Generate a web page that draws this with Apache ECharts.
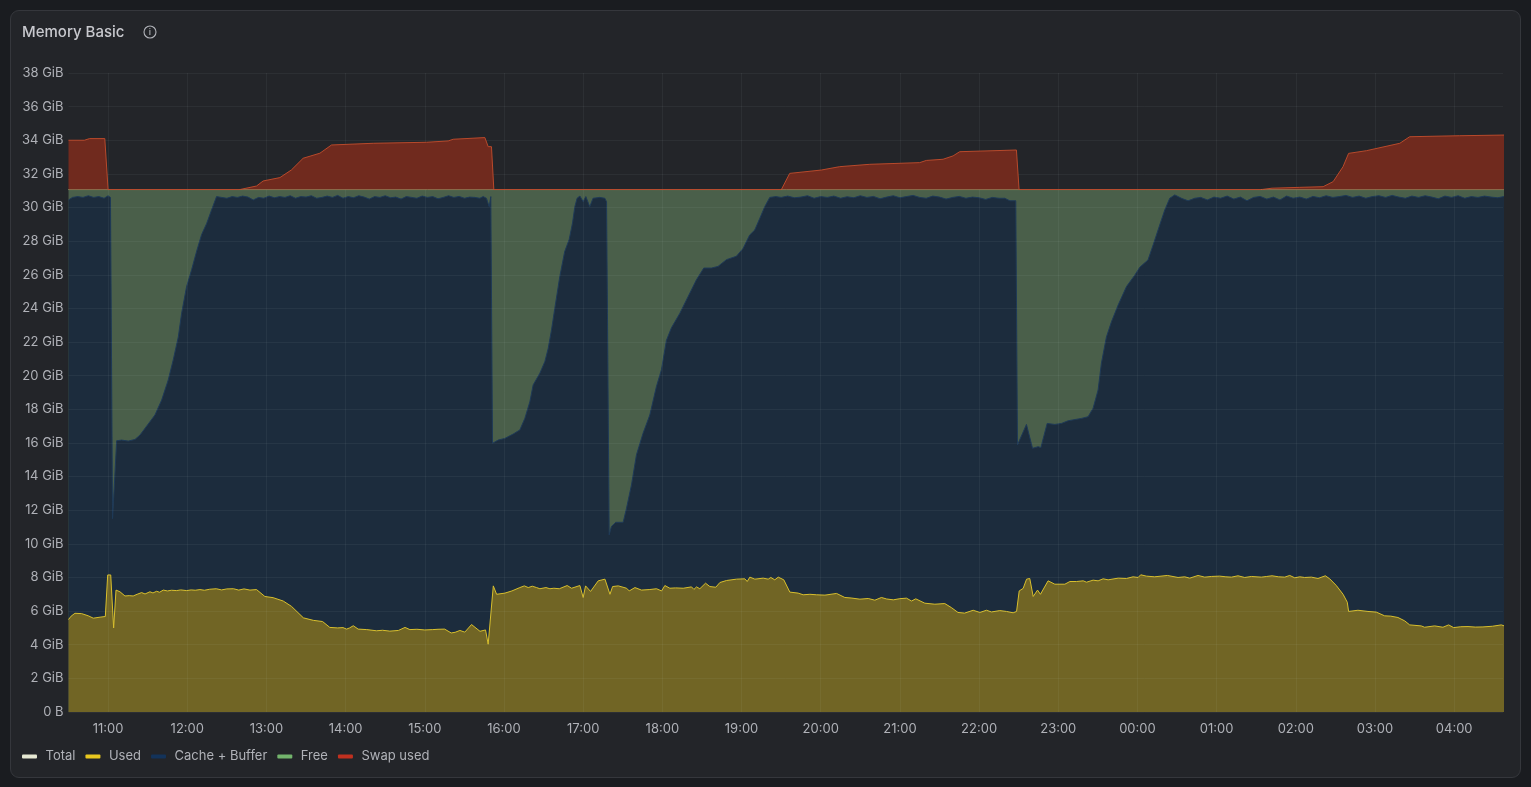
<!DOCTYPE html>
<html><head><meta charset="utf-8">
<style>
html,body{margin:0;padding:0;width:1531px;height:787px;background:#1a1c20;overflow:hidden}
#panel{position:absolute;left:10px;top:10px;width:1509px;height:766px;background:#232529;border:1px solid #35373c;border-radius:9px}
#c{position:absolute;left:0;top:0;width:1531px;height:787px}
</style>
<script src="https://cdn.jsdelivr.net/npm/echarts@6/dist/echarts.min.js"></script>
</head><body><div id="panel"></div><div id="c"></div>
<script>
// Minutes after 10:30 and GiB values
const legendNames = ['Total','Used','Cache + Buffer','Free','Swap used'];
const yTicksMax = 38;

const usedT = [0,2,4.9,10,15,18.8,23.9,27.9,29.7,32,34.2,36,39,42.8,46,49,52,55.4,58,61.7,64,66.8,69,71.8,75,78,82,85,89.5,93,96,99.6,103,107,112,116,120,125,129,133,137.5,142.5,148.8,155,162.7,169,178,185.5,192.5,198,204,208,210.7,213,215.8,219.5,226,233.4,238,243.5,250,255,258.7,264,270,276,280,285,290,293,296.6,300.3,305.4,311.8,316,318,321.9,324.4,330.7,336,342,345.4,348.4,351.4,354.7,357.2,361.8,364.8,367.8,371.9,377.9,381.2,387.5,390,391.8,395.6,401.4,406.5,410.3,412.3,416.6,422.9,424.9,429.2,434.2,440,445.6,449.4,451.9,455.7,460,465.8,472.1,473.9,475.9,478.4,482.7,486,490.5,493.6,498.6,506.2,512.5,514.3,516.3,520.1,526.4,530.2,532.2,535.2,537.8,542,546.6,552.9,556.7,561.8,566.8,573.2,582,588.3,593,599.7,606,611,616,620,625,630,635,638.8,642,648.9,656.5,664,669,674,679,685.5,690.6,695.6,699.4,705.7,710.8,715.8,718.4,720.4,723.4,726,728.4,731,734.3,736.5,742.3,747.4,755,758.8,763.8,768.9,771.4,776.4,780.2,784,787.8,795.4,801.7,806.7,810.5,812.5,816.8,823,832.7,840.8,845.8,849.6,855.9,861,866,872.3,877,881.2,886.2,891.3,896.3,903.9,908,912,917,921.6,925.4,929.2,933,936.7,941.8,946.8,952.4,955.7,960.7,965.8,969,970,977.1,984.7,991,997.3,1002,1007.4,1012.5,1016.3,1025,1027.6,1035.2,1041.5,1045.8,1049.6,1055,1060.5,1066,1071.8,1079,1085.7,1088];
const usedV = [5.5,5.7,5.87,5.85,5.72,5.58,5.64,5.68,8.15,8.15,5.0,7.25,7.15,6.9,6.92,6.9,7.0,7.1,7.02,7.15,7.08,7.18,7.12,7.25,7.2,7.24,7.22,7.26,7.22,7.26,7.24,7.28,7.24,7.3,7.33,7.26,7.32,7.33,7.25,7.32,7.25,7.28,6.87,6.8,6.6,6.28,5.6,5.45,5.38,5.03,5.0,5.02,4.93,5.0,5.13,4.93,4.9,4.83,4.86,4.81,4.85,5.03,4.9,4.92,4.88,4.9,4.92,4.93,4.7,4.74,4.85,4.75,5.2,4.8,4.88,4.03,7.5,7.0,7.07,7.2,7.4,7.5,7.4,7.48,7.4,7.33,7.4,7.33,7.36,7.33,7.52,7.36,7.52,6.81,7.5,7.17,7.8,7.9,7.0,7.46,7.5,7.36,7.2,7.4,7.25,7.28,7.33,7.2,7.52,7.36,7.38,7.36,7.44,7.29,7.44,7.33,7.66,7.46,7.42,7.7,7.82,7.9,7.92,7.76,8.02,7.9,7.96,7.9,8.0,7.86,8.02,7.86,7.13,7.07,6.97,7.0,6.97,6.95,7.05,6.81,6.78,6.71,6.75,6.65,6.81,6.72,6.67,6.74,6.77,6.6,6.73,6.47,6.41,6.45,6.21,5.92,5.88,6.05,5.92,6.05,5.95,6.03,5.98,5.9,5.98,7.2,7.35,7.9,7.94,6.87,7.25,7.0,7.8,7.6,7.6,7.76,7.76,7.8,7.72,7.84,7.8,7.92,7.86,7.96,7.94,8.04,8.0,8.16,8.08,8.04,8.12,8.0,8.04,7.96,8.12,8.02,8.06,8.08,8.04,8.02,8.1,8.0,8.06,8.02,8.06,8.1,8.04,8.02,8.12,7.98,8.04,8.0,8.02,7.94,8.1,7.92,7.52,7.0,6.53,5.98,6.05,5.98,5.94,5.72,5.7,5.62,5.42,5.18,5.12,5.04,5.12,5.04,5.18,5.02,5.07,5.08,5.05,5.06,5.1,5.18,5.12];

const cacheT = [0,3,7,11,15,19,23,27,30,31.8,33.4,36.5,40.3,45.3,50.4,54.2,59.2,65.5,70.6,75.6,79.4,83.2,85.7,89.5,93.3,97.1,100.9,104.7,108.4,112.2,116,120,124,128,132,136,140,144,148,152,156,160,164,168,172,176,180,184,188,192,196,200,204,208,212,216,220,224,228,232,236,240,244,248,252,256,260,264,268,272,276,280,284,288,292,296,300,304,308,311.7,314.2,316.7,318.8,320,321.3,325.6,330.6,337,342,345.8,349.6,352.1,357.2,361,363.5,366,368.5,372.3,376,379.4,381.9,383.7,385.4,387.5,390,392,395,397.5,402.6,406.4,407.7,408.4,409.7,411.4,414.7,420.3,422.8,426.6,430.4,435.4,440.5,445.5,449.3,453.1,456.9,463.2,469.5,475.8,481.4,487.2,492.2,498.6,506.1,511.2,516.2,520,523.8,527.6,531.4,536,540,545,550,555,560,565,570,575,580,585,590,595,600,605,610,615,620,625,630,635,640,645,650,655,660,665,670,675,680,685,690,695,700,705,709.5,713.3,717.8,719.1,725.9,730.5,734.8,736.8,741.6,747.4,752.4,757.5,767.6,772.6,776.4,780.2,782.7,786.5,790.3,795.4,801.7,808,811.8,818,821.9,826.9,830.7,834.5,838.3,843.3,848.4,853.4,858,863,868,873,878,883,888,893,898,903,908,913,918,923,928,933,938,943,948,953,958,963,968,973,978,983,988,993,998,1003,1008,1013,1018,1023,1028,1033,1038,1043,1048,1053,1058,1063,1068,1073,1078,1083,1088];
const cacheV = [30.45,30.6,30.65,30.6,30.7,30.6,30.65,30.55,30.7,30.6,11.5,16.13,16.17,16.11,16.21,16.47,17.0,17.66,18.55,19.75,20.95,22.3,23.7,25.3,26.3,27.4,28.4,29.05,29.85,30.65,30.6,30.55,30.65,30.6,30.68,30.62,30.45,30.6,30.55,30.68,30.58,30.65,30.6,30.7,30.55,30.65,30.62,30.7,30.55,30.6,30.68,30.6,30.72,30.55,30.65,30.58,30.7,30.62,30.5,30.65,30.6,30.7,30.58,30.62,30.5,30.65,30.6,30.55,30.68,30.6,30.65,30.52,30.6,30.7,30.6,30.66,30.55,30.62,30.6,30.55,30.65,30.55,30.05,30.65,15.98,16.17,16.27,16.53,16.77,17.46,18.45,19.45,20.15,20.85,21.62,22.72,24.0,25.9,27.38,28.1,29.07,30.05,30.55,30.68,30.35,30.65,30.05,30.55,30.6,30.55,30.35,23.7,10.53,11.03,11.28,11.28,12.1,13.5,15.3,16.58,17.66,19.35,20.35,22.1,22.85,23.7,24.7,25.7,26.4,26.4,26.5,26.9,27.1,27.57,28.37,28.66,29.35,30.05,30.6,30.65,30.6,30.68,30.58,30.62,30.7,30.55,30.65,30.6,30.68,30.55,30.64,30.58,30.7,30.6,30.66,30.52,30.62,30.7,30.58,30.65,30.72,30.6,30.55,30.68,30.62,30.5,30.6,30.66,30.55,30.62,30.58,30.48,30.6,30.55,30.55,30.4,30.4,15.88,17.1,15.68,15.78,15.72,17.16,17.1,17.16,17.32,17.46,17.56,18.06,19.15,20.74,22.3,23.2,24.2,25.3,25.98,26.45,26.88,27.77,28.96,29.85,30.55,30.75,30.55,30.4,30.55,30.6,30.45,30.62,30.55,30.68,30.5,30.62,30.4,30.6,30.66,30.5,30.62,30.45,30.68,30.55,30.62,30.5,30.66,30.58,30.7,30.6,30.65,30.72,30.6,30.68,30.55,30.65,30.7,30.6,30.72,30.62,30.55,30.68,30.6,30.7,30.62,30.52,30.68,30.6,30.7,30.55,30.65,30.6,30.68,30.62,30.58,30.66];

const swapT = [0,12,16,27.5,30,129.9,142.5,147.5,160.2,169,177.8,190.5,199.3,230.9,271.3,287.7,291.5,315.5,318,320.5,322.3,540.2,546.5,570.5,584.4,607.2,645,650,662.7,670.3,675.3,718.3,720.3,904,912,933,950.7,958.3,965.8,970,983.5,1008.8,1016.3,1054.2,1088];
const swapV = [34.0,34.0,34.1,34.1,31.07,31.07,31.28,31.58,31.78,32.24,32.93,33.23,33.72,33.82,33.88,33.96,34.06,34.16,33.62,33.62,31.07,31.07,32.03,32.23,32.43,32.57,32.67,32.8,32.87,33.07,33.32,33.42,31.07,31.07,31.15,31.2,31.24,31.54,32.43,33.22,33.38,33.82,34.21,34.27,34.31];

const totalT = [0,1088];
const totalV = [31.07,31.07];

const start = new Date(2024,0,1,10,30).getTime();
const pairs = (ts,vs) => ts.map((t,i)=>[start+t*60000,vs[i]]);
const line = (name,ts,vs,lineColor,areaColor,z,origin) => ({
  name,type:'line',data:pairs(ts,vs),symbol:'none',showSymbol:false,z,silent:true,
  lineStyle:{color:lineColor,width:1},
  itemStyle:{color:lineColor},
  areaStyle:areaColor?(origin===undefined?{color:areaColor,opacity:1}:{color:areaColor,opacity:1,origin}):undefined
});

const chart = echarts.init(document.getElementById('c'),null,{renderer:'canvas'});
const font = 'Inter, "Noto Sans", sans-serif';
chart.setOption({
  animation:false,
  backgroundColor:'transparent',
  title:{text:'Memory Basic',left:22,top:25,padding:0,textStyle:{color:'#c8c9ce',fontFamily:font,fontSize:15,fontWeight:500}},
  grid:{left:68.5,right:28,top:73,bottom:75,containLabel:false},
  legend:{
    left:22,top:750,padding:0,itemWidth:15,itemHeight:4,itemGap:10,icon:'roundRect',
    textStyle:{color:'#b0b2b8',fontFamily:font,fontSize:13,padding:[0,0,0,3.5]},
    data:[
      {name:'Total',itemStyle:{color:'#e5e8d2'}},
      {name:'Used',itemStyle:{color:'#e9c81f'}},
      {name:'Cache + Buffer',itemStyle:{color:'#13335a'}},
      {name:'Free',itemStyle:{color:'#73b46c'}},
      {name:'Swap used',itemStyle:{color:'#c0301f'}}
    ]
  },
  xAxis:{
    type:'time',min:start,max:start+1087*60000,
    minInterval:3600000,maxInterval:3600000,z:6,
    axisLine:{show:false},axisTick:{show:false},
    splitLine:{show:true,showMinLine:false,showMaxLine:false,lineStyle:{color:'rgba(210,215,225,0.06)',width:1}},
    axisLabel:{color:'#b0b2b8',fontFamily:font,fontSize:13,margin:11,formatter:'{HH}:{mm}',showMinLabel:false,showMaxLabel:false,hideOverlap:false}
  },
  yAxis:{
    type:'value',min:0,max:yTicksMax,interval:2,z:6,
    axisLine:{show:false},axisTick:{show:false},
    splitLine:{show:true,lineStyle:{color:'rgba(210,215,225,0.06)',width:1}},
    axisLabel:{color:'#b0b2b8',fontFamily:font,fontSize:13,margin:5,padding:[4,0,0,0],formatter:v=>v===0?'0 B':v+' GiB'}
  },
  graphic:[
    {type:'circle',z:10,shape:{cx:150,cy:32,r:6},style:{fill:'none',stroke:'#b0b2b8',lineWidth:1.1}},
    {type:'text',z:10,x:150,y:32,style:{text:'i',fill:'#b0b2b8',font:'500 9px '+font,align:'center',verticalAlign:'middle'}}
  ],
  series:[
    line('Free',totalT,totalV,'#73b46c','#4a5f4a',2),
    line('Cache + Buffer',cacheT,cacheV,'#1f3a58','#1c2c3d',3),
    line('Used',usedT,usedV,'#d8bf2e','#716525',4),
    line('Total',totalT,totalV,'#a3a876',null,5),
    line('Swap used',swapT,swapV,'#b84a2c','#702a1e',7,31.07)
  ]
});
</script></body></html>
